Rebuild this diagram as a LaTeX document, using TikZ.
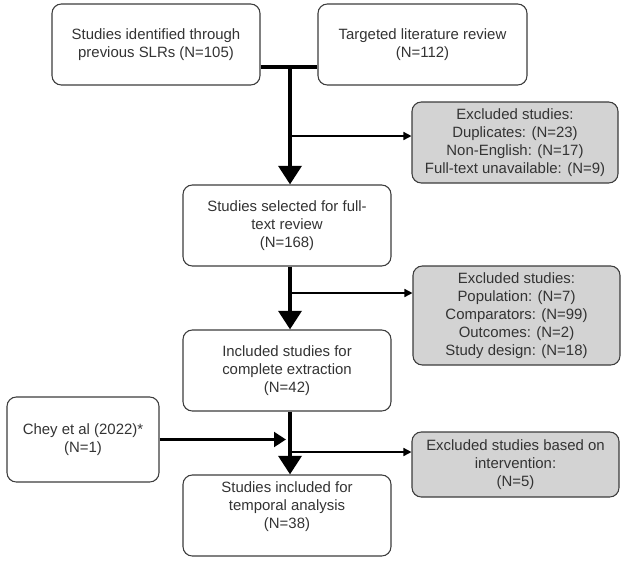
\documentclass[tikz,border=0pt]{standalone}
\usepackage{fontspec}
\setmainfont{Liberation Sans}
\usetikzlibrary{arrows.meta}

\definecolor{boxline}{HTML}{3C3C3C}
\definecolor{boxtext}{HTML}{333333}
\definecolor{exclfill}{HTML}{D3D3D3}

\tikzset{
  box/.style={draw=boxline, line width=0.8pt, rounded corners=7pt, fill=white,
    text=boxtext, align=center, inner sep=2pt,
    font=\fontsize{11.2}{13.5}\selectfont},
  exclbox/.style={box, fill=exclfill},
  mainflow/.style={line width=3.4pt, -{Triangle[width=17pt,length=14pt]}},
  sideflow/.style={line width=1.1pt, -{Triangle[width=6pt,length=6pt]}},
}

\begin{document}
\begin{tikzpicture}[x=0.75pt,y=-0.75pt]
    \useasboundingbox (0,0) rectangle (631,562);

    % sources
    \node[box,minimum width=156pt,minimum height=60.75pt] (slr) at (156,44.5)
        {Studies identified through\\previous SLRs (N=105)};
    \node[box,minimum width=156.75pt,minimum height=60.75pt] (tlr) at (422.5,44.5)
        {Targeted literature review\\(N=112)};

    % main column
    \node[box,minimum width=156pt,minimum height=60.75pt] (full) at (287,225.5)
        {Studies selected for full-\\text review\\(N=168)};
    \node[box,minimum width=156pt,minimum height=60.75pt] (incl) at (287,370.5)
        {Included studies for\\complete extraction\\(N=42)};
    \node[box,minimum width=156pt,minimum height=60.75pt] (temp) at (287,515.5)
        {Studies included for\\temporal analysis\\(N=38)\\[2pt]\mbox{}};
    \node[box,minimum width=114pt,minimum height=63.75pt] (chey) at (83,439.5)
        {Chey et al (2022)*\\(N=1)};

    % exclusions
    \node[exclbox,minimum width=154.5pt,minimum height=60.75pt] (excla) at (515,142.5)
        {Excluded studies:\\Duplicates: (N=23)\\Non-English: (N=17)\\Full-text unavailable: (N=9)};
    \node[exclbox,minimum width=155.25pt,minimum height=74.25pt] (exclb) at (516.5,315.5)
        {Excluded studies:\\Population: (N=7)\\Comparators: (N=99)\\Outcomes: (N=2)\\Study design: (N=18)};
    \node[exclbox,minimum width=155.25pt,minimum height=48.75pt] (exclc) at (515.5,464.5)
        {Excluded studies based on\\intervention:\\(N=5)};

    % spine
    \coordinate (join) at (290,67);
    \coordinate (ba) at (290,136);
    \coordinate (bb) at (290,293);
    \coordinate (bc) at (290,452);
    \coordinate (ch) at (286,439.5);

    \draw[line width=3.4pt] (slr.east |- join) -- (tlr.west |- join);
    \draw[mainflow] (join) -- (join |- full.north);
    \draw[mainflow] (join |- full.south) -- (join |- incl.north);
    \draw[mainflow] (join |- incl.south) -- (join |- temp.north);
    \draw[line width=2.6pt, -{Triangle[width=11pt,length=9pt]}] (chey.east) -- (ch);

    \draw[sideflow] (ba) -- (ba -| excla.west);
    \draw[sideflow] (bb) -- (bb -| exclb.west);
    \draw[sideflow] (bc) -- (bc -| exclc.west);
\end{tikzpicture}
\end{document}
